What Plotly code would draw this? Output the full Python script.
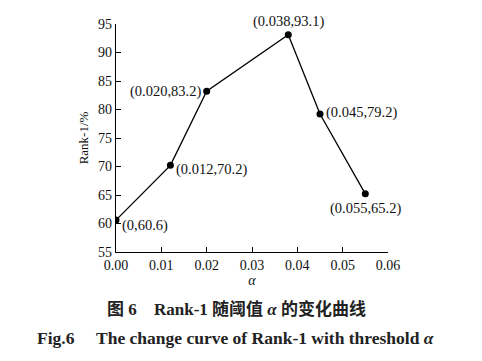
import plotly.graph_objects as go

alpha = [0.0, 0.012, 0.020, 0.038, 0.045, 0.055]
rank1 = [60.6, 70.2, 83.2, 93.1, 79.2, 65.2]
labels = ["(0,60.6)", "(0.012,70.2)", "(0.020,83.2)", "(0.038,93.1)", "(0.045,79.2)", "(0.055,65.2)"]
x_ticks = [0.00, 0.01, 0.02, 0.03, 0.04, 0.05, 0.06]
x_ticktext = ["0.00", "0.01", "0.02", "0.03", "0.04", "0.05", "0.06"]
y_ticks = [55, 60, 65, 70, 75, 80, 85, 90, 95]

# label placement: (xanchor, yanchor, xshift, yshift)
placement = [
    ("left", "middle", 4, -5),
    ("left", "middle", 4, -4),
    ("right", "middle", -4, 0),
    ("center", "bottom", 0, 3),
    ("left", "middle", 4, 2),
    ("center", "top", 0, -4),
]

SERIF = "Liberation Serif, Times New Roman, serif"
CJK = "Liberation Serif, Noto Sans CJK SC, serif"

L, R, T, B = 116, 94, 24, 109
W, H = 482, 361
PW = W - L - R


def px_to_paper_x(px):
    return (px - L) / PW


fig = go.Figure()
fig.add_trace(go.Scatter(
    x=alpha, y=rank1, mode="lines+markers",
    line=dict(color="black", width=1.3),
    marker=dict(color="black", size=7),
    showlegend=False, hoverinfo="skip",
))

for xv, yv, txt, (xa, ya, xs, ys) in zip(alpha, rank1, labels, placement):
    fig.add_annotation(x=xv, y=yv, text=txt, showarrow=False,
                       xanchor=xa, yanchor=ya, xshift=xs, yshift=ys,
                       font=dict(family=SERIF, size=14.5, color="#111"))

# captions (pixel placement relative to plot bottom at y=252)
cap_color = "#222"
fig.add_annotation(xref="paper", yref="paper", x=px_to_paper_x(105), y=0, yshift=-(309 - 252),
                   xanchor="left", yanchor="middle", showarrow=False,
                   text="<b>图 6</b>", font=dict(family=CJK, size=17, color=cap_color))
fig.add_annotation(xref="paper", yref="paper", x=px_to_paper_x(259.5), y=0, yshift=-(309 - 252),
                   xanchor="center", yanchor="middle", showarrow=False,
                   text="<b>Rank-1 随阈值 <i>α</i> 的变化曲线</b>",
                   font=dict(family=CJK, size=17, color=cap_color))
fig.add_annotation(xref="paper", yref="paper", x=px_to_paper_x(35), y=0, yshift=-(338 - 252),
                   xanchor="left", yanchor="middle", showarrow=False,
                   text="<b>Fig.6</b>", font=dict(family=SERIF, size=17.5, color=cap_color))
fig.add_annotation(xref="paper", yref="paper", x=px_to_paper_x(264.5), y=0, yshift=-(338 - 252),
                   xanchor="center", yanchor="middle", showarrow=False,
                   text="<b>The change curve of Rank-1 with threshold <i>α</i></b>",
                   font=dict(family=SERIF, size=17.5, color=cap_color))

fig.update_layout(
    width=W, height=H,
    margin=dict(l=L, r=R, t=T, b=B),
    paper_bgcolor="white", plot_bgcolor="white",
    font=dict(family=SERIF, size=14, color="#111"),
    xaxis=dict(range=[0, 0.06], tickvals=x_ticks, ticktext=x_ticktext,
               ticks="inside", ticklen=5, tickwidth=1.2, tickcolor="black",
               showline=True, linecolor="black", linewidth=1.2,
               showgrid=False, zeroline=False, automargin=False,
               tickfont=dict(size=14),
               title=dict(text="<i>α</i>", standoff=2, font=dict(size=14))),
    yaxis=dict(range=[55, 95], tickvals=y_ticks,
               ticks="inside", ticklen=5, tickwidth=1.2, tickcolor="black",
               showline=True, linecolor="black", linewidth=1.2,
               showgrid=False, zeroline=False, automargin=False,
               tickfont=dict(size=14),
               title=dict(text="Rank-1/%", standoff=6, font=dict(size=13))),
)

fig.write_html("out.html", config={"displayModeBar": False},
               post_script="document.body.style.margin='0px';document.body.style.overflow='hidden';")
